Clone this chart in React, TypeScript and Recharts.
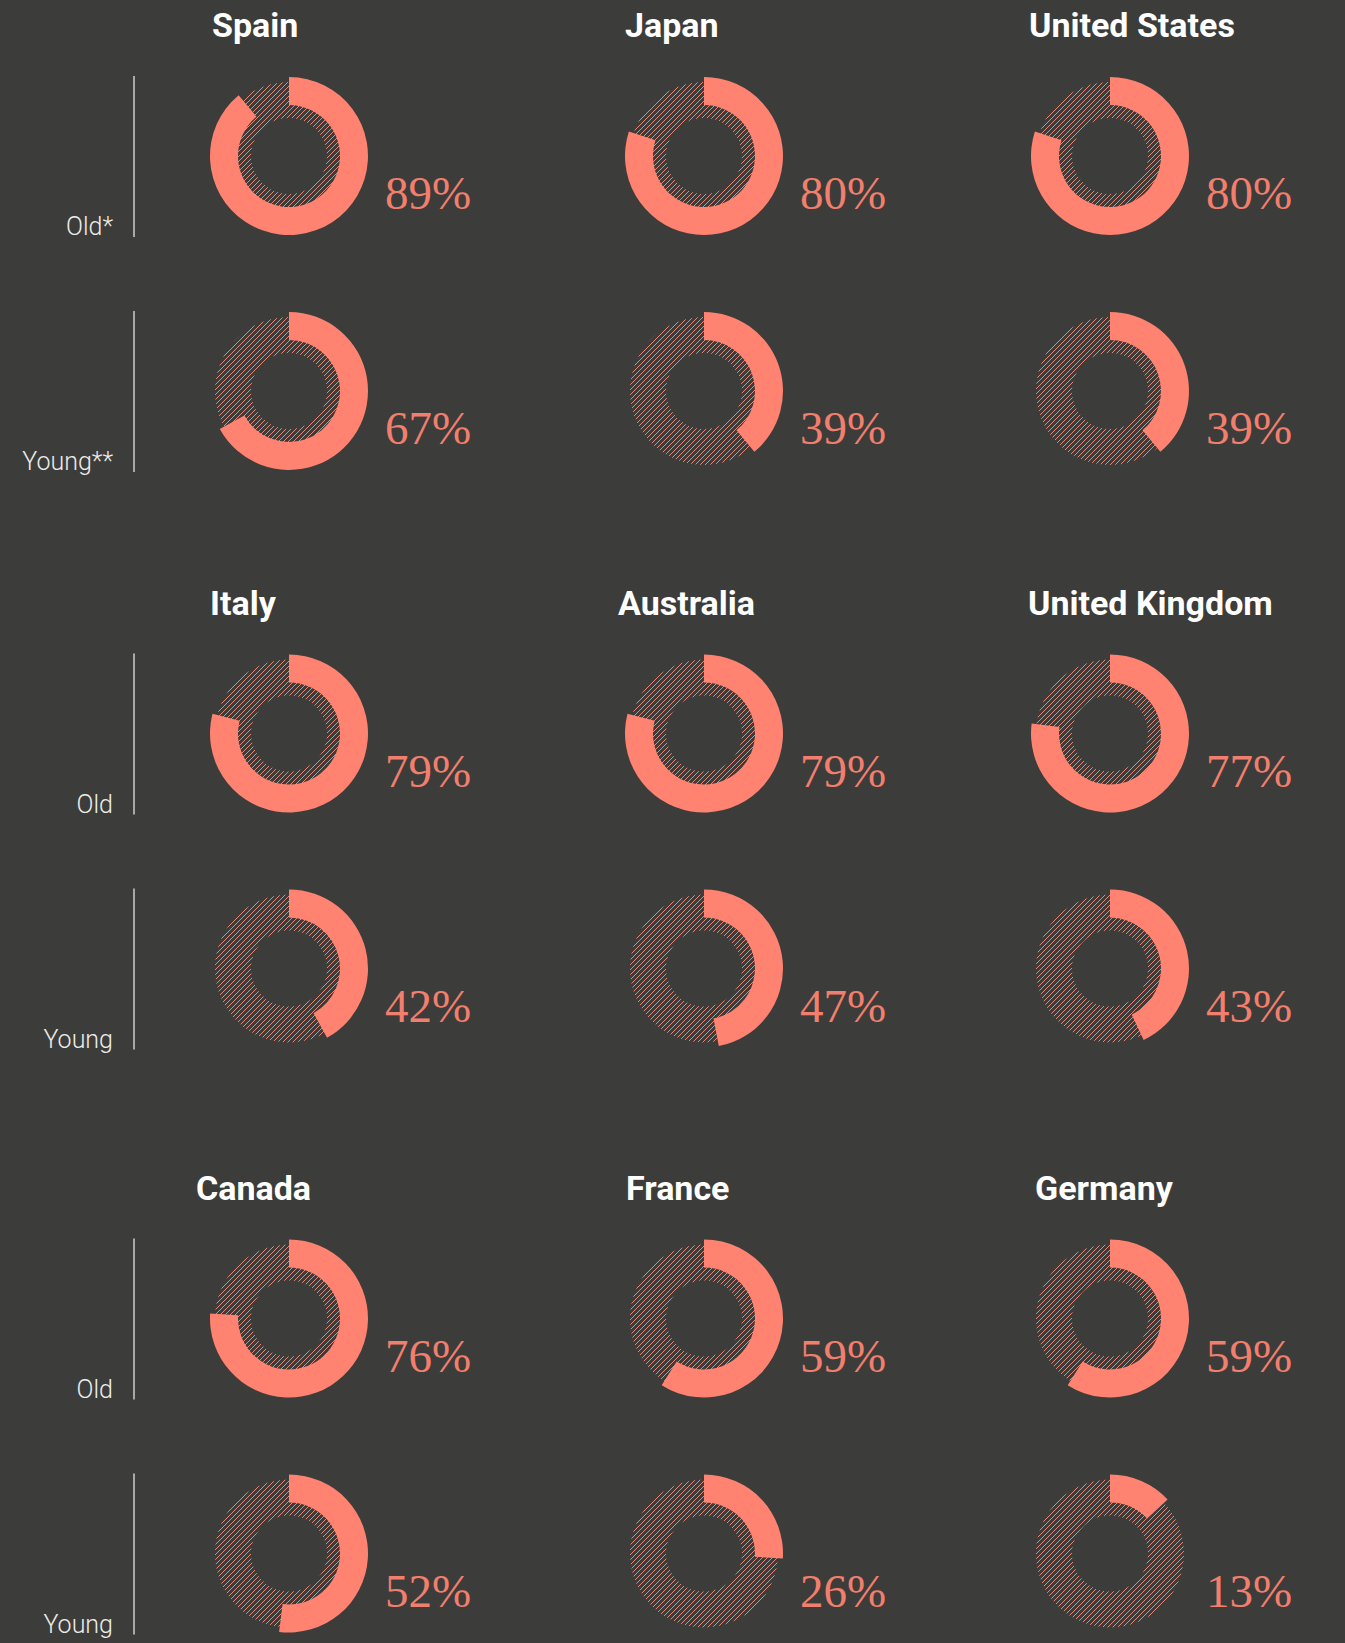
import React from "react";
import { PieChart, Pie, Cell } from "recharts";

// share of people, per country, older and younger group
const countries = [
  "Spain", "Japan", "United States",
  "Italy", "Australia", "United Kingdom",
  "Canada", "France", "Germany",
];
const oldShare = [89, 80, 80, 79, 79, 77, 76, 59, 59];
const youngShare = [67, 39, 39, 42, 47, 43, 52, 26, 13];
const oldLabels = ["Old*", "Old", "Old"];
const youngLabels = ["Young**", "Young", "Young"];

// layout
const W = 1345;
const H = 1643;
const BG = "#3c3c3a";
const SALMON = "#ff8370";
const TEXT_SALMON = "#f27f6d";
const COL_X = [289, 704, 1110];
const GROUP_Y = [156, 733.5, 1318.5];
const ROW_GAP = 235;
const TITLE_DX = [-77, -79, -81, -79, -86, -82, -93, -78, -75];

const frameLabel = (i: number, young: boolean) => (props: any) => {
  const { cx, cy } = props;
  const group = Math.floor(i / 3);
  const col = i % 3;
  return (
    <g>
      {!young && (
        <text
          x={cx + TITLE_DX[i]}
          y={cy - 119}
          fill="#ffffff"
          fontFamily="Roboto, sans-serif"
          fontWeight={700}
          fontSize={34}
        >
          {countries[i]}
        </text>
      )}
      {col === 0 && (
        <g>
          <line x1={134} x2={134} y1={cy - 80} y2={cy + 81} stroke="#a9a9a7" strokeWidth={2} />
          <text
            x={113}
            y={cy + 79}
            textAnchor="end"
            fill="#ececea"
            fontFamily="Roboto, sans-serif"
            fontWeight={300}
            fontSize={25}
          >
            {young ? youngLabels[group] : oldLabels[group]}
          </text>
        </g>
      )}
    </g>
  );
};

const valueLabel = (v: number) => (props: any) => {
  if (props.index !== 0) return null;
  return (
    <text
      x={props.cx + 96}
      y={props.cy + 53}
      fill={TEXT_SALMON}
      fontFamily="'Liberation Serif', serif"
      fontSize={47}
    >
      {v}%
    </text>
  );
};

const donut = (i: number, young: boolean) => {
  const v = young ? youngShare[i] : oldShare[i];
  const cx = COL_X[i % 3];
  const cy = GROUP_Y[Math.floor(i / 3)] + (young ? ROW_GAP : 0);
  const key = `${i}-${young ? "y" : "o"}`;
  const ring = [{ name: "ring", value: 100 }];
  const share = [
    { name: "share", value: v },
    { name: "rest", value: 100 - v },
  ];
  return [
    <Pie
      key={`bg-${key}`}
      data={ring}
      dataKey="value"
      cx={cx}
      cy={cy}
      innerRadius={38}
      outerRadius={74}
      startAngle={90}
      endAngle={-270}
      stroke="none"
      fill="url(#hatch)"
      label={frameLabel(i, young)}
      labelLine={false}
      isAnimationActive={false}
    />,
    <Pie
      key={`fg-${key}`}
      data={share}
      dataKey="value"
      cx={cx}
      cy={cy}
      innerRadius={51}
      outerRadius={79}
      startAngle={90}
      endAngle={-270}
      stroke="none"
      label={valueLabel(v)}
      labelLine={false}
      isAnimationActive={false}
    >
      <Cell fill={SALMON} />
      <Cell fill="transparent" />
    </Pie>,
  ];
};

export default function App() {
  return (
    <div style={{ position: "absolute", left: 0, top: 0, width: W, height: H, background: BG }}>
      <PieChart width={W} height={H} margin={{ top: 0, right: 0, bottom: 0, left: 0 }}>
        <defs>
          <pattern id="hatch" patternUnits="userSpaceOnUse" width={5} height={5}>
            <path
              d="M-1,1 L1,-1 M0,5 L5,0 M4,6 L6,4"
              stroke="#ea8676"
              strokeWidth={1.2}
              shapeRendering="crispEdges"
            />
          </pattern>
        </defs>
        {countries.flatMap((_c, i) => [...donut(i, false), ...donut(i, true)])}
      </PieChart>
    </div>
  );
}
